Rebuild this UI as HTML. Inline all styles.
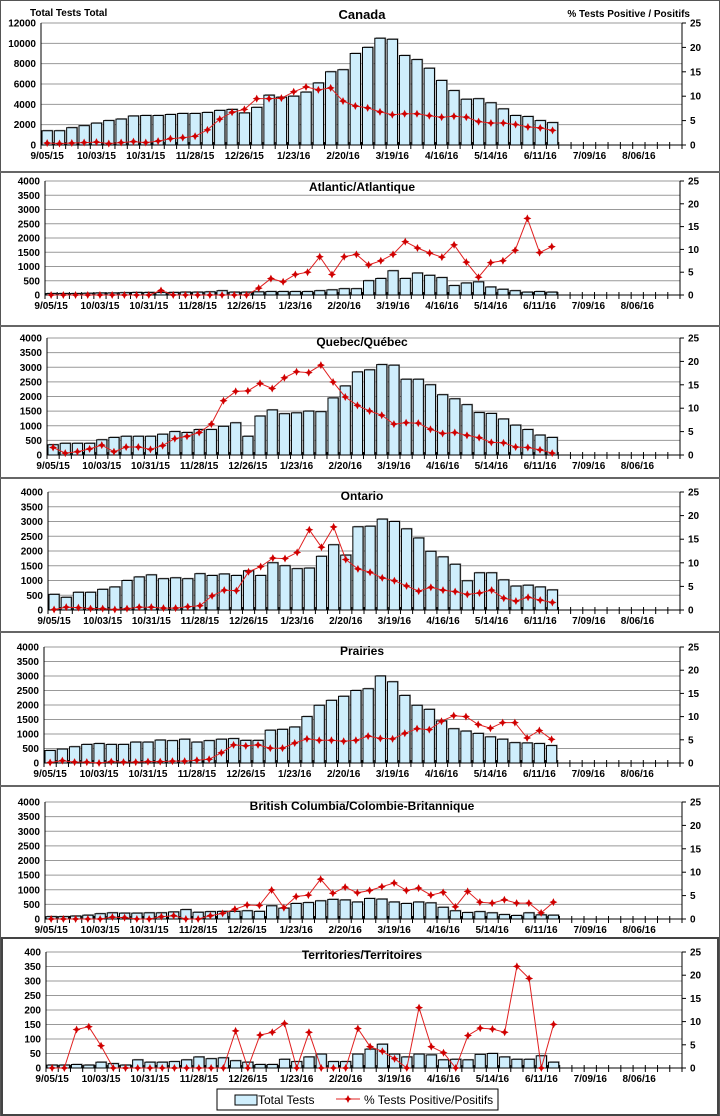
<!DOCTYPE html>
<html><head><meta charset="utf-8"><style>
html,body{margin:0;padding:0;background:#fff;}
svg{display:block;font-family:"Liberation Sans",Arial,sans-serif;}
</style></head><body>
<svg id="s" width="720" height="1116" viewBox="0 0 720 1116" xmlns="http://www.w3.org/2000/svg"></svg>
<script>
var labels=["9/05/15","10/03/15","10/31/15","11/28/15","12/26/15","1/23/16","2/20/16","3/19/16","4/16/16","5/14/16","6/11/16","7/09/16","8/06/16"];
var P=[
{t:"Canada",L:41,R:682,T:23,B:145,max:12000,step:2000,ty:19,tf:13,
b:[1400,1400,1700,1900,2150,2400,2550,2850,2900,2900,3000,3100,3100,3200,3400,3500,3150,3700,4900,4700,4800,5200,6100,7200,7400,9000,9600,10500,10400,8800,8400,7550,6350,5350,4500,4550,4150,3550,2900,2800,2400,2200],
p:[0.4,0.3,0.4,0.5,0.6,0.3,0.5,0.7,0.5,0.8,1.3,1.5,1.8,3.1,5.3,6.7,7.3,9.5,9.5,9.6,10.9,11.9,11.3,11.7,9,8,7.6,6.8,6.2,6.4,6.4,6,5.7,5.9,5.7,4.8,4.5,4.5,4.2,3.7,3.5,3]},
{t:"Atlantic/Atlantique",L:45,R:680,T:181,B:295,max:4000,step:500,ty:191,tf:12,
b:[50,50,50,60,70,70,80,90,90,90,90,100,100,110,150,100,100,110,120,120,120,120,150,180,220,220,500,580,850,580,770,690,610,330,420,460,280,200,150,100,120,100],
p:[0,0,0,0,0,0,0,0,0,1,0,0,0,0,0,0,0,1.5,3.6,2.9,4.5,5,8.4,4.5,8.4,8.9,6.6,7.5,8.9,11.7,10.3,9.2,8.3,11,7.2,3.9,7.1,7.5,9.8,16.8,9.3,10.6]},
{t:"Quebec/Québec",L:47,R:680,T:338,B:455,max:4000,step:500,ty:346,tf:12,
b:[350,400,400,400,520,600,640,640,640,710,800,770,870,870,980,1100,640,1330,1540,1410,1440,1500,1480,1950,2360,2840,2910,3090,3070,2590,2590,2400,2060,1920,1720,1450,1420,1230,1020,870,680,600],
p:[1.6,0.4,0.7,1.3,2.1,0.7,1.7,1.7,1.2,2,3.5,4,4.8,6.6,11.6,13.6,13.7,15.3,14.2,16.5,17.8,17.6,19.2,15.6,12.4,10.6,9.4,8.5,6.6,6.9,6.8,5.5,4.6,4.8,4.2,3.7,2.7,2.6,1.7,1.6,1.1,0.4]},
{t:"Ontario",L:48,R:680,T:492,B:610,max:4000,step:500,ty:500,tf:12,
b:[530,430,600,600,700,780,1000,1120,1190,1060,1090,1060,1230,1170,1220,1170,1330,1170,1600,1500,1400,1420,1820,2210,1860,2820,2840,3080,3000,2750,2440,1990,1800,1550,990,1260,1260,1020,810,840,780,680],
p:[0.1,0.6,0.5,0.3,0.3,0.1,0.3,0.6,0.6,0.4,0.4,0.7,0.9,3,4.2,4.1,8.1,9.2,11,10.9,12.2,17,13.3,17.6,10.7,8.7,8,6.8,6.2,5.1,4,4.8,4.2,3.9,3.3,3.6,4.2,2.5,1.9,2.7,2.1,1.6]},
{t:"Prairies",L:44,R:680,T:647,B:763,max:4000,step:500,ty:655,tf:12,
b:[430,480,560,640,670,640,640,720,720,790,770,820,720,770,820,840,780,780,1130,1160,1240,1600,1990,2160,2300,2500,2560,3000,2800,2330,1990,1850,1450,1180,1100,1020,900,820,700,690,670,600],
p:[0.1,0.5,0.2,0.2,0,0.3,0.2,0.2,0.3,0.3,0.4,0.4,0.6,0.8,2.2,3.9,3.7,3.9,3.2,3.2,4.3,5.2,4.9,4.9,4.7,4.9,5.8,5.3,5.2,6.4,7.4,7.2,9,10.2,10,8.3,7.5,8.7,8.7,5.4,7,5.1]},
{t:"British Columbia/Colombie-Britannique",L:45,R:682,T:802,B:919,max:4000,step:500,ty:810,tf:12,
b:[80,80,100,130,180,210,200,200,210,210,240,320,230,250,260,260,280,260,450,370,530,560,620,670,650,580,700,680,580,530,580,550,400,280,220,250,210,150,120,210,140,130],
p:[0,0,0,0,0,0.4,0.3,0,0,0.5,0.7,0,0,0.7,1.2,2.1,3,2.9,6.2,2.4,4.8,5.1,8.5,5.5,6.8,5.6,6.1,6.9,7.7,6.1,6.6,5.1,5.7,2.6,5.9,3.6,3.4,4.1,3.4,3.4,1.3,3.6]},
{t:"Territories/Territoires",L:46,R:682,T:952,B:1068,max:400,step:50,ty:959,tf:12,
b:[10,10,12,10,20,15,10,28,20,20,22,28,38,32,35,25,20,12,12,30,22,38,48,22,22,48,65,82,48,38,48,45,28,30,28,47,50,38,30,30,42,20],
p:[0,0,8.3,8.9,4.8,0,0,0,0,0,0,0,0,0,0,8,0,7.1,7.7,9.6,0,7.7,0,0,0,8.5,4.6,3.6,2,0,13,4.6,3.3,0,7,8.6,8.4,7.7,21.9,19.3,0,9.4]}
];
var o='';
// frames
o+='<rect x="0.5" y="0.5" width="719" height="1115" fill="none" stroke="#555" stroke-width="1"/>';
[172,326,478,632,786].forEach(function(y){o+='<line x1="0" x2="720" y1="'+y+'" y2="'+y+'" stroke="#666" stroke-width="2"/>';});
o+='<rect x="2" y="938" width="716" height="177" fill="none" stroke="#444" stroke-width="2"/>';
P.forEach(function(c){
 var L=c.L,R=c.R,T=c.T,B=c.B,H=B-T,w=(R-L)/52;
 var n=c.max/c.step;
 for(var k=0;k<=n;k++){var y=B-k*H/n;
  if(k>0)o+='<line x1="'+L+'" x2="'+R+'" y1="'+y+'" y2="'+y+'" stroke="#999" stroke-width="1"/>';
  o+='<text x="'+(L-5)+'" y="'+(y+3.5)+'" font-size="10" font-weight="bold" text-anchor="end">'+(k*c.step)+'</text>';}
 for(var k=0;k<=5;k++){var y=B-k*H/5;
  o+='<line x1="'+R+'" x2="'+(R+4)+'" y1="'+y+'" y2="'+y+'" stroke="#000"/>';
  o+='<text x="'+(R+8)+'" y="'+(y+3.5)+'" font-size="10" font-weight="bold">'+(k*5)+'</text>';}
 // bars
 c.b.forEach(function(v,i){var h=v/c.max*H,x=L+i*w+1;
  o+='<rect x="'+(x+1)+'" y="'+(B-h-1)+'" width="'+(w-2)+'" height="'+(h+1)+'" fill="#999"/>';
  o+='<rect x="'+x+'" y="'+(B-h)+'" width="'+(w-2)+'" height="'+h+'" fill="#cfeefc" stroke="#000" stroke-width="1"/>';});
 // axes
 o+='<line x1="'+L+'" x2="'+L+'" y1="'+T+'" y2="'+B+'" stroke="#000"/>';
 o+='<line x1="'+R+'" x2="'+R+'" y1="'+T+'" y2="'+B+'" stroke="#000"/>';
 o+='<line x1="'+L+'" x2="'+R+'" y1="'+B+'" y2="'+B+'" stroke="#000"/>';
 for(var i=0;i<=52;i++){var x=L+i*w;o+='<line x1="'+x+'" x2="'+x+'" y1="'+(B-3)+'" y2="'+(B+4)+'" stroke="#000"/>';}
 labels.forEach(function(s,j){var x=L+(j*4+0.5)*w;
  o+='<text x="'+x+'" y="'+(B+14)+'" font-size="10" font-weight="bold" text-anchor="middle">'+s+'</text>';});
 // line
 var pts=c.p.map(function(v,i){return [L+(i+0.5)*w,B-v/25*H];});
 o+='<polyline points="'+pts.map(function(p){return p[0].toFixed(1)+','+p[1].toFixed(1);}).join(' ')+'" fill="none" stroke="#e02020" stroke-width="1"/>';
 pts.forEach(function(p){var x=p[0],y=p[1];
  o+='<polygon points="'+x+','+(y-4)+' '+(x+1.3)+','+(y-1.3)+' '+(x+4)+','+y+' '+(x+1.3)+','+(y+1.3)+' '+x+','+(y+4)+' '+(x-1.3)+','+(y+1.3)+' '+(x-4)+','+y+' '+(x-1.3)+','+(y-1.3)+'" fill="#d00000"/>';});
 o+='<text x="362" y="'+c.ty+'" font-size="'+c.tf+'" font-weight="bold" text-anchor="middle">'+c.t+'</text>';
});
o+='<text x="30" y="16" font-size="10" font-weight="bold">Total Tests  Total</text>';
o+='<text x="690" y="17" font-size="10" font-weight="bold" text-anchor="end">% Tests  Positive / Positifs</text>';
// legend
o+='<rect x="217" y="1089" width="281" height="21" fill="#fff" stroke="#000"/>';
o+='<rect x="235" y="1095" width="22" height="10" fill="#cfeefc" stroke="#000"/>';
o+='<text x="258" y="1104" font-size="12">Total Tests</text>';
o+='<line x1="336" x2="360" y1="1099" y2="1099" stroke="#e02020"/>';
o+='<polygon points="348,1095 349.3,1097.7 352,1099 349.3,1100.3 348,1103 346.7,1100.3 344,1099 346.7,1097.7" fill="#d00000"/>';
o+='<text x="364" y="1104" font-size="12">% Tests Positive/Positifs</text>';
document.getElementById('s').innerHTML=o;
</script>
</body></html>
